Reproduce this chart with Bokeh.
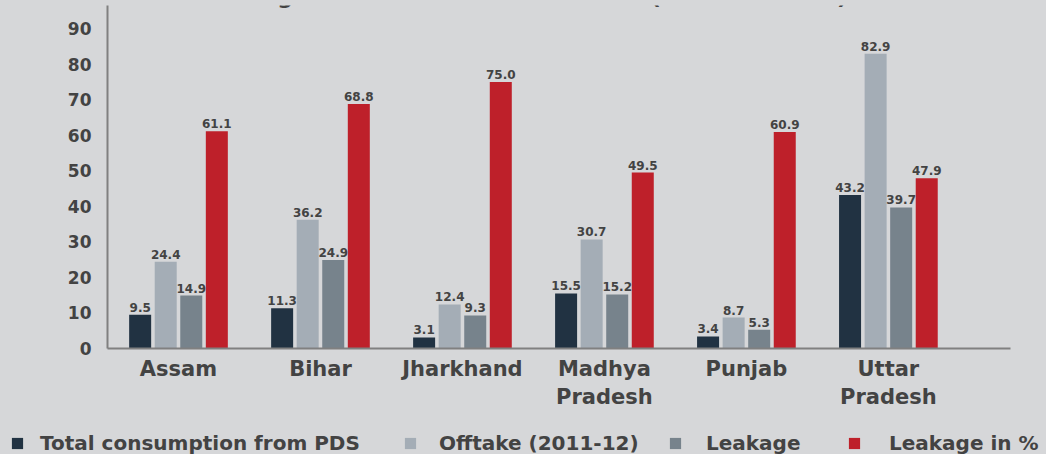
from bokeh.plotting import figure
from bokeh.layouts import column
from bokeh.models import ColumnDataSource, FixedTicker, Legend, LegendItem, Label
from bokeh.embed import file_html
from bokeh.resources import INLINE
from bokeh.core.properties import value

# ---- data ----
states = ["Assam", "Bihar", "Jharkhand", "Madhya\nPradesh", "Punjab", "Uttar\nPradesh"]
consumption = [9.5, 11.3, 3.1, 15.5, 3.4, 43.2]
offtake = [24.4, 36.2, 12.4, 30.7, 8.7, 82.9]
leakage = [14.9, 24.9, 9.3, 15.2, 5.3, 39.7]
leakage_pct = [61.1, 68.8, 75.0, 49.5, 60.9, 47.9]
series_names = ["Total consumption from PDS", "Offtake (2011-12)", "Leakage", "Leakage in %"]
y_ticks = [0, 10, 20, 30, 40, 50, 60, 70, 80, 90]
title_text = "Leakages in PDS in Selected States (in lakh tonnes)"

# ---- style ----
BG = "#d6d7d9"
TXT = "#434343"
FONT = "DejaVu Sans"
colors = ["#213242", "#a4adb6", "#77838c", "#be202a"]
offsets = [-0.27, -0.09, 0.09, 0.27]
bar_w = 0.155
legend_x = [10, 403, 668, 847]
legend_standoff = [16, 22, 24, 28]

p = figure(width=1046, height=424, x_range=(0, 6.36), y_range=(0, 96.5),
           output_backend="svg", toolbar_location=None,
           min_border_left=107, min_border_right=36, min_border_top=5, min_border_bottom=76)
p.background_fill_color = BG
p.border_fill_color = BG
p.outline_line_color = None
p.xgrid.visible = False
p.ygrid.visible = False
p.frame_align = False
p.styles = {"background-color": BG}

all_series = [consumption, offtake, leakage, leakage_pct]
for vals, col, off in zip(all_series, colors, offsets):
    xs = [i + 0.5 + off for i in range(len(states))]
    src = ColumnDataSource(dict(x=xs, top=vals, lab=[f"{v:.1f}" for v in vals]))
    p.vbar(x="x", top="top", width=bar_w, bottom=0, source=src,
           fill_color=col, line_color=None)
    p.text(x="x", y="top", text="lab", source=src, text_align="center",
           text_baseline="bottom", y_offset=-3, text_font=value(FONT),
           text_font_style="bold", text_font_size="12px", text_color=TXT)

# axes
p.yaxis.ticker = FixedTicker(ticks=y_ticks)
p.yaxis.major_tick_line_color = None
p.yaxis.minor_tick_line_color = None
p.yaxis.axis_line_color = "#808080"
p.yaxis.axis_line_width = 2
p.yaxis.major_label_text_font = FONT
p.yaxis.major_label_text_font_style = "bold"
p.yaxis.major_label_text_font_size = "17px"
p.yaxis.major_label_text_color = TXT
p.yaxis.major_label_standoff = 10

centers = [i + 0.5 for i in range(len(states))]
p.xaxis.ticker = FixedTicker(ticks=centers)
p.xaxis.major_label_overrides = {c: s for c, s in zip(centers, states)}
p.xaxis.major_tick_line_color = None
p.xaxis.minor_tick_line_color = None
p.xaxis.axis_line_color = "#808080"
p.xaxis.axis_line_width = 2
p.xaxis.major_label_text_font = FONT
p.xaxis.major_label_text_font_style = "bold"
p.xaxis.major_label_text_font_size = "21px"
p.xaxis.major_label_text_color = TXT
p.xaxis.major_label_standoff = 2

title = Label(x=418, y=352, x_units="screen", y_units="screen", text=title_text,
              text_align="center", text_baseline="alphabetic", text_font=FONT,
              text_font_style="bold", text_font_size="22px", text_color=TXT)
p.add_layout(title)

# ---- legend strip ----
q = figure(width=1046, height=30, x_range=(0, 1), y_range=(0, 1),
           output_backend="svg", toolbar_location=None,
           x_axis_location=None, y_axis_location=None,
           min_border_left=0, min_border_right=0, min_border_top=0, min_border_bottom=0)
q.background_fill_color = BG
q.border_fill_color = BG
q.outline_line_color = None
q.xgrid.visible = False
q.ygrid.visible = False
q.frame_align = False
q.styles = {"background-color": BG}
for name, col, lx, ls in zip(series_names, colors, legend_x, legend_standoff):
    r = q.vbar(x=[5], top=[0.5], width=0.1, fill_color=col, line_color=None)
    lg = Legend(items=[LegendItem(label=name, renderers=[r])], orientation="horizontal",
                location=(lx, -1), glyph_width=14, glyph_height=14, label_standoff=ls,
                padding=0, margin=0, border_line_color=None, background_fill_alpha=0,
                label_text_font=FONT, label_text_font_style="bold",
                label_text_font_size="20px", label_text_color=TXT)
    q.add_layout(lg, "center")

layout = column(p, q, spacing=0)
layout.styles = {"position": "absolute", "left": "0px", "top": "0px", "background-color": BG}

open("out.html", "w").write(file_html(layout, INLINE))
